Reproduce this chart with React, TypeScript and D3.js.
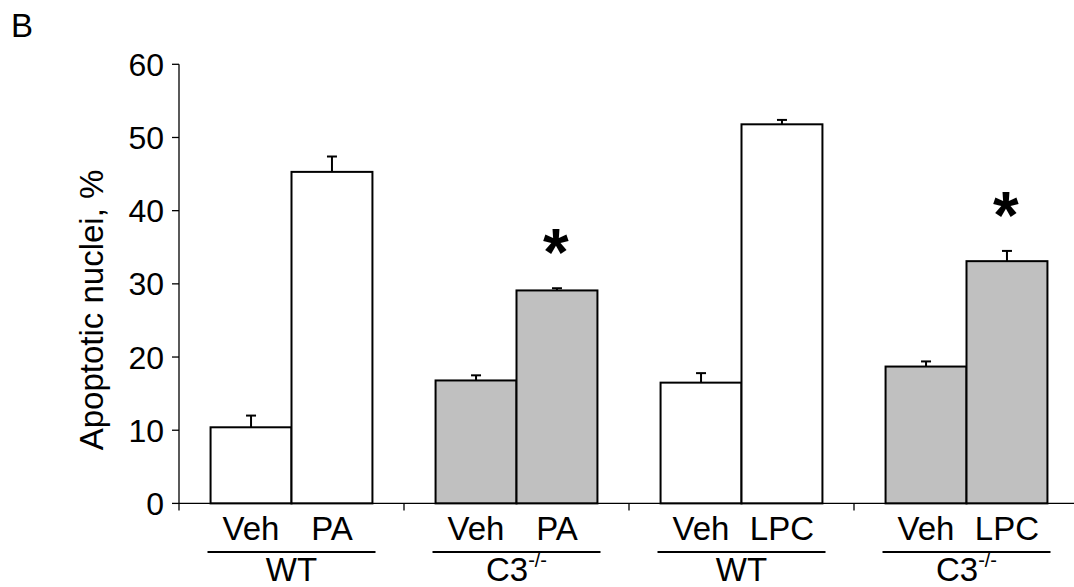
import React from "react";
import * as d3 from "d3";

const groupLabels = ["WT", "C3", "WT", "C3"];
const groupIsKO = [false, true, false, true];
const treatments = [["Veh", "PA"], ["Veh", "PA"], ["Veh", "LPC"], ["Veh", "LPC"]];
const values = [10.4, 45.3, 16.8, 29.1, 16.5, 51.8, 18.7, 33.1];
const errors = [1.6, 2.1, 0.7, 0.3, 1.3, 0.6, 0.7, 1.4];
const significant = [false, false, false, true, false, false, false, true];
const yTicks = [0, 10, 20, 30, 40, 50, 60];

const FONT = "Arial, 'Liberation Sans', sans-serif";

export default function App() {
  const W = 1074, H = 587;
  const x0 = 179, x1 = 1079;
  const y = d3.scaleLinear().domain([0, 60]).range([503.4, 64.3]);
  const gx = d3.scaleBand<number>().domain(d3.range(4)).range([x0, x1]).padding(0);
  const ix = d3.scaleBand<number>().domain([0, 1]).range([0, gx.bandwidth()]).paddingInner(0).paddingOuter(0.39);
  const bw = ix.bandwidth();

  return (
    <svg width={W} height={H} style={{ position: "absolute", left: 0, top: 0, background: "#fff" }} fontFamily={FONT}>
      <text x={11} y={37} fontSize={33} fill="#000">B</text>

      {/* bars */}
      {d3.range(4).map((g) =>
        [0, 1].map((k) => {
          const i = g * 2 + k;
          const bx = (gx(g) as number) + (ix(k) as number);
          const cx = bx + bw / 2;
          const top = y(values[i]);
          const et = y(values[i] + errors[i]);
          return (
            <g key={i}>
              <line x1={cx} x2={cx} y1={top} y2={et} stroke="#000" strokeWidth={2} />
              <line x1={cx - 5} x2={cx + 5} y1={et} y2={et} stroke="#000" strokeWidth={2} />
              <rect x={bx} y={top} width={bw} height={y(0) - top} fill={groupIsKO[g] ? "#c0c0c0" : "#fff"} stroke="#000" strokeWidth={2} />
              {significant[i] && (
                <text x={cx - 1} y={et - 13} textAnchor="middle" fontSize={66} fontWeight="bold" fill="#000">*</text>
              )}
            </g>
          );
        })
      )}

      {/* y axis */}
      <line x1={x0} x2={x0} y1={y(60)} y2={y(0)} stroke="#000" strokeWidth={1.3} />
      {yTicks.map((t) => (
        <g key={t}>
          <line x1={x0 - 7} x2={x0} y1={y(t)} y2={y(t)} stroke="#000" strokeWidth={1.3} />
          <text x={164} y={y(t)} dy="0.36em" textAnchor="end" fontSize={32} fill="#000">{t}</text>
        </g>
      ))}
      <text transform={`translate(103,310) rotate(-90)`} textAnchor="middle" fontSize={33} fill="#000">Apoptotic nuclei, %</text>

      {/* x axis */}
      <line x1={x0} x2={x1} y1={y(0)} y2={y(0)} stroke="#000" strokeWidth={1.3} />
      {d3.range(4).map((g) => (
        <line key={g} x1={gx(g) as number} x2={gx(g) as number} y1={y(0)} y2={y(0) + 7} stroke="#000" strokeWidth={1.3} />
      ))}

      {d3.range(4).map((g) => {
        const gc = (gx(g) as number) + gx.bandwidth() / 2;
        return (
          <g key={g}>
            {[0, 1].map((k) => (
              <text key={k} x={(gx(g) as number) + (ix(k) as number) + bw / 2} y={540} textAnchor="middle" fontSize={33} fill="#000">
                {treatments[g][k]}
              </text>
            ))}
            <line x1={gc - 84} x2={gc + 84} y1={552} y2={552} stroke="#000" strokeWidth={2} />
            <text x={gc} y={581} textAnchor="middle" fontSize={33} fill="#000">
              {groupLabels[g]}
              {groupIsKO[g] && (
                <tspan fontSize={20} dy={-14}>-/-</tspan>
              )}
            </text>
          </g>
        );
      })}
    </svg>
  );
}
